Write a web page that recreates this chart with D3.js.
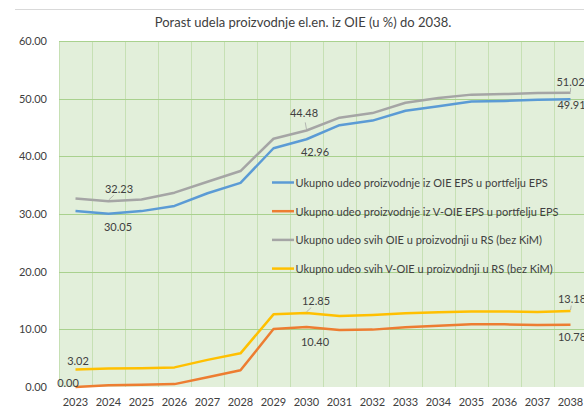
<!DOCTYPE html>
<html>
<head>
<meta charset="utf-8">
<script src="https://cdn.jsdelivr.net/npm/d3@7"></script>
<style>
  body { margin: 0; background: #fff; }
  text { font-family: Lato, "Open Sans", sans-serif; fill: #404040; }
</style>
</head>
<body>
<div id="chart"></div>
<script>
// data
var years = ["2023","2024","2025","2026","2027","2028","2029","2030","2031","2032","2033","2034","2035","2036","2037","2038"];
var epsOie  = [30.5, 30.05, 30.5, 31.4, 33.6, 35.4, 41.4, 42.96, 45.4, 46.2, 47.9, 48.7, 49.5, 49.6, 49.8, 49.91];
var epsVoie = [0.00, 0.3, 0.4, 0.5, 1.7, 2.9, 10.06, 10.40, 9.9, 9.95, 10.35, 10.6, 10.87, 10.87, 10.75, 10.78];
var rsOie   = [32.7, 32.23, 32.5, 33.7, 35.6, 37.45, 43.05, 44.48, 46.7, 47.5, 49.3, 50.1, 50.7, 50.8, 50.98, 51.02];
var rsVoie  = [3.02, 3.2, 3.25, 3.4, 4.7, 5.84, 12.6, 12.85, 12.3, 12.5, 12.8, 12.95, 13.1, 13.1, 13.0, 13.18];
var seriesNames = [
  "Ukupno udeo proizvodnje iz OIE EPS u portfelju EPS",
  "Ukupno udeo proizvodnje iz V-OIE EPS u portfelju EPS",
  "Ukupno udeo svih OIE u proizvodnji u RS (bez KiM)",
  "Ukupno udeo svih V-OIE u proizvodnji u RS (bez KiM)"
];
var yTicks = [0, 10, 20, 30, 40, 50, 60];
var title = "Porast udela proizvodnje el.en. iz OIE (u %) do 2038.";

var colors = ["#5B9BD5", "#ED7D31", "#A5A5A5", "#FFC000"];
var allSeries = [epsOie, epsVoie, rsOie, rsVoie];

var w = 584, h = 411;
var plotLeft = 59, plotRight = 587, plotTop = 41, plotBottom = 387;

var svg = d3.select("#chart").append("svg")
  .attr("width", w).attr("height", h);

svg.append("rect").attr("width", w).attr("height", h).attr("fill", "#fff");

// thin chart border line at the top
svg.append("line")
  .attr("x1", 15).attr("x2", w).attr("y1", 9.5).attr("y2", 9.5)
  .attr("stroke", "#d9d9d9").attr("stroke-width", 1);

var xScale = d3.scaleBand().domain(years).range([plotLeft, plotRight]);
var yScale = d3.scaleLinear().domain([0, 60]).range([plotBottom, plotTop]);

// plot background
svg.append("rect")
  .attr("x", plotLeft).attr("y", plotTop)
  .attr("width", plotRight - plotLeft).attr("height", plotBottom - plotTop)
  .attr("fill", "#E2EFDA");

// vertical gridlines between categories
svg.append("g").selectAll("line")
  .data(years)
  .enter().append("line")
  .attr("x1", function(d) { return Math.round(xScale(d)) + 0.5; })
  .attr("x2", function(d) { return Math.round(xScale(d)) + 0.5; })
  .attr("y1", plotTop).attr("y2", plotBottom)
  .attr("stroke", "#C6E0B4").attr("stroke-width", 1);

// horizontal gridlines
svg.append("g").selectAll("line")
  .data(yTicks.slice(1))
  .enter().append("line")
  .attr("x1", plotLeft).attr("x2", plotRight)
  .attr("y1", function(d) { return Math.round(yScale(d)) + 0.5; })
  .attr("y2", function(d) { return Math.round(yScale(d)) + 0.5; })
  .attr("stroke", "#A9D18E").attr("stroke-width", 1.2);

// y axis labels
var y_axis = d3.axisLeft(yScale).tickValues(yTicks).tickSize(0).tickPadding(12)
  .tickFormat(d3.format(".2f"));
var gy = svg.append("g").attr("transform", "translate(" + plotLeft + ",0)").call(y_axis);
gy.select(".domain").remove();
gy.selectAll("text").style("font-size", "11px").attr("fill", "#404040");

// x axis labels
var x_axis = d3.axisBottom(xScale).tickSize(0).tickPadding(11);
var gx = svg.append("g").attr("transform", "translate(0," + plotBottom + ")").call(x_axis);
gx.select(".domain").remove();
gx.selectAll("text").style("font-size", "11px").attr("fill", "#404040");

// lines
var line = d3.line()
  .x(function(d, i) { return xScale(years[i]) + xScale.bandwidth() / 2; })
  .y(function(d) { return yScale(d); });

allSeries.forEach(function(s, k) {
  svg.append("path")
    .datum(s)
    .attr("d", line)
    .attr("fill", "none")
    .attr("stroke", colors[k])
    .attr("stroke-width", 2.5)
    .attr("stroke-linejoin", "round");
});

// data labels: series, year index, label offset from the point, leader line or not
var labels = [
  [2, 1, 10.5, -13, true],
  [0, 1, 9.5, 13, false],
  [2, 7, -2.5, -18, true],
  [0, 7, 8.5, 12.5, false],
  [2, 15, 0, -11, true],
  [0, 15, 1, 5, false],
  [3, 0, 2.5, -9, false],
  [1, 0, -7.5, -5, false],
  [3, 7, 9.5, -12, true],
  [1, 7, 8.5, 14, false],
  [3, 15, 1.5, -12, true],
  [1, 15, 1.5, 11.5, false]
];

labels.forEach(function(l) {
  var v = allSeries[l[0]][l[1]];
  var px = xScale(years[l[1]]) + xScale.bandwidth() / 2;
  var py = yScale(v);
  if (l[4]) {
    svg.append("line")
      .attr("x1", px).attr("y1", py - 1)
      .attr("x2", px + l[2] * 0.5).attr("y2", py + l[3] * 0.45)
      .attr("stroke", "#A6A6A6").attr("stroke-width", 0.8);
  }
  svg.append("text")
    .attr("x", px + l[2]).attr("y", py + l[3])
    .attr("text-anchor", "middle")
    .attr("dominant-baseline", "central")
    .style("font-size", "11px")
    .text(d3.format(".2f")(v));
});

// legend
var legend = svg.append("g").selectAll("g")
  .data(seriesNames)
  .enter().append("g")
  .attr("transform", function(d, i) { return "translate(272," + (182.5 + i * 28.7) + ")"; });

legend.append("line")
  .attr("x1", 0).attr("x2", 22)
  .attr("stroke", function(d, i) { return colors[i]; })
  .attr("stroke-width", 2.5);

legend.append("text")
  .attr("x", 23.5).attr("y", 0)
  .attr("dominant-baseline", "central")
  .style("font-size", "11px")
  .text(function(d) { return d; });

// title
svg.append("text")
  .attr("x", 303).attr("y", 22)
  .attr("text-anchor", "middle")
  .attr("dominant-baseline", "central")
  .style("font-size", "13px")
  .text(title);
</script>
</body>
</html>
